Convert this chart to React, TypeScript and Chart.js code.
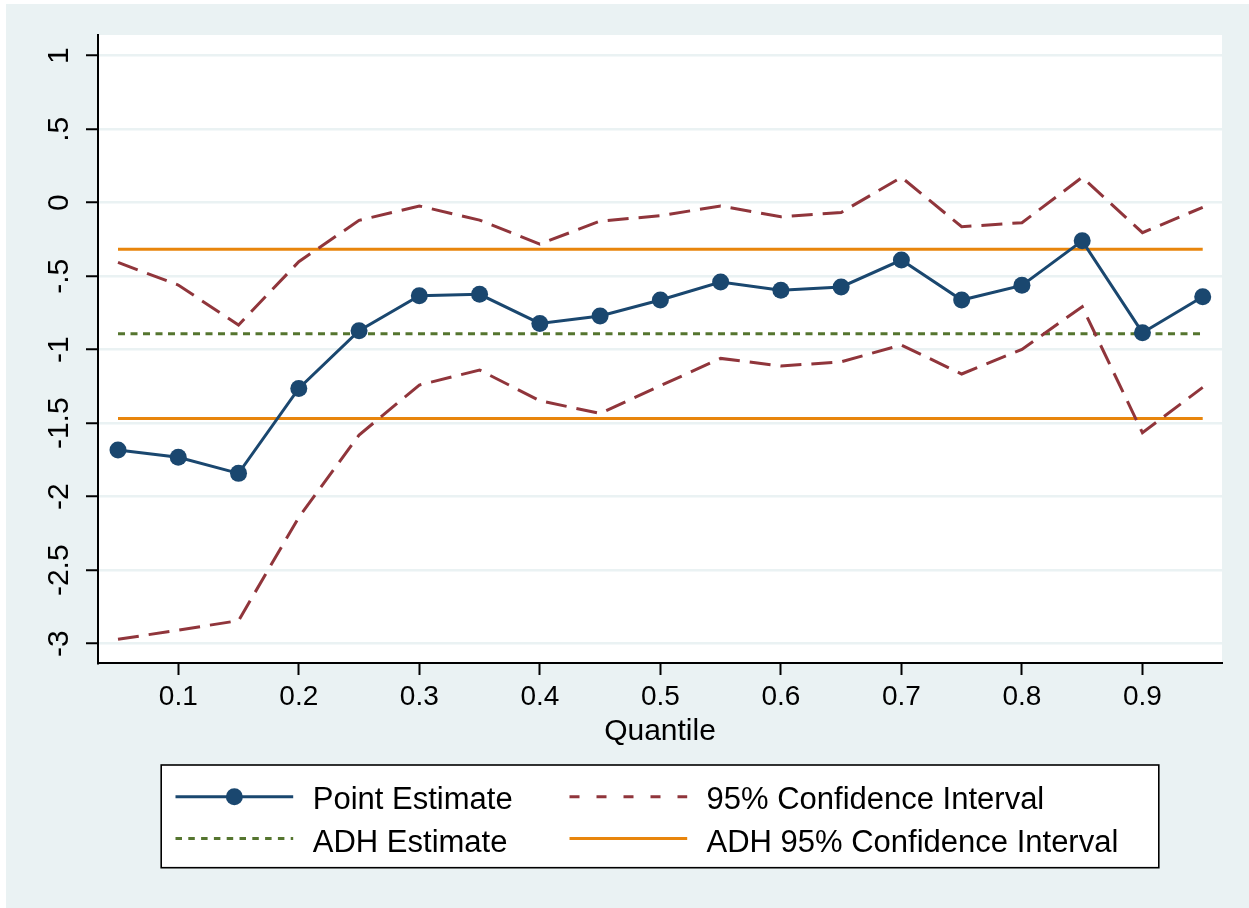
import React, { useEffect, useRef } from "react";
import { Chart, registerables } from "chart.js";

Chart.register(...registerables);

// ---- data ----
const quantiles = [0.05, 0.1, 0.15, 0.2, 0.25, 0.3, 0.35, 0.4, 0.45, 0.5, 0.55, 0.6, 0.65, 0.7, 0.75, 0.8, 0.85, 0.9, 0.95];
const pointEstimate = [-1.682, -1.732, -1.841, -1.263, -0.871, -0.633, -0.623, -0.821, -0.771, -0.662, -0.539, -0.596, -0.573, -0.39, -0.662, -0.562, -0.259, -0.884, -0.639];
const ciUpper = [-0.406, -0.56, -0.832, -0.401, -0.12, -0.022, -0.118, -0.281, -0.125, -0.088, -0.022, -0.095, -0.066, 0.173, -0.163, -0.136, 0.173, -0.204, -0.031];
const ciLower = [-2.97, -2.907, -2.843, -2.14, -1.58, -1.24, -1.138, -1.347, -1.433, -1.245, -1.059, -1.111, -1.082, -0.968, -1.165, -0.998, -0.707, -1.565, -1.256];
const adhRange = [0.05, 0.95];
const adhEstimate = -0.891;
const adhCiUpper = -0.317;
const adhCiLower = -1.467;
const xTickValues = [0.1, 0.2, 0.3, 0.4, 0.5, 0.6, 0.7, 0.8, 0.9];
const yTickValues = [1, 0.5, 0, -0.5, -1, -1.5, -2, -2.5, -3];
const yTickLabels = ["1", ".5", "0", "-.5", "-1", "-1.5", "-2", "-2.5", "-3"];
const legendLabels = ["Point Estimate", "95% Confidence Interval", "ADH Estimate", "ADH 95% Confidence Interval"];

const NAVY = "#1a476f";
const MAROON = "#90353b";
const GREEN = "#55752f";
const ORANGE = "#e8850c";
const BG = "#eaf2f3";
const FONT = "'Liberation Sans', Arial, Helvetica, sans-serif";

const pts = (xs: number[], ys: number[]) => xs.map((x, i) => ({ x, y: ys[i] }));
const flat = (v: number) => adhRange.map((x) => ({ x, y: v }));

const bgPlugin = {
  id: "bgPlugin",
  beforeDraw(chart: any) {
    const { ctx, chartArea } = chart;
    ctx.save();
    ctx.fillStyle = "#ffffff";
    ctx.fillRect(chartArea.left, chartArea.top, chartArea.right - chartArea.left, chartArea.bottom - chartArea.top);
    ctx.restore();
  },
};

const legendPlugin = {
  id: "stataLegend",
  afterDraw(chart: any) {
    const { ctx, chartArea } = chart;
    const cx = (chartArea.left + chartArea.right) / 2;
    const w = 997.6;
    const left = cx - w / 2;
    const top = 761;
    const h = 102.7;
    ctx.save();
    ctx.fillStyle = "#ffffff";
    ctx.fillRect(left, top, w, h);
    ctx.strokeStyle = "#000000";
    ctx.lineWidth = 1.6;
    ctx.strokeRect(left, top, w, h);

    const rows = [top + 31.7, top + 73.5];
    const baselines = [top + 43.5, top + 86.7];
    const cols = [
      { s: left + 14.3, e: left + 132, t: left + 151.6 },
      { s: left + 408.3, e: left + 526, t: left + 545.3 },
    ];
    const items = [
      { col: 0, row: 0, color: NAVY, dash: [] as number[], marker: true },
      { col: 1, row: 0, color: MAROON, dash: [10, 17], marker: false },
      { col: 0, row: 1, color: GREEN, dash: [6.5, 6.3], marker: false },
      { col: 1, row: 1, color: ORANGE, dash: [] as number[], marker: false },
    ];
    items.forEach((it, i) => {
      const c = cols[it.col];
      const y = rows[it.row];
      ctx.beginPath();
      ctx.setLineDash(it.dash);
      ctx.strokeStyle = it.color;
      ctx.lineWidth = 3;
      ctx.lineCap = "butt";
      ctx.moveTo(c.s, y);
      ctx.lineTo(c.e, y);
      ctx.stroke();
      ctx.setLineDash([]);
      if (it.marker) {
        ctx.beginPath();
        ctx.fillStyle = it.color;
        ctx.arc((c.s + c.e) / 2, y, 8.5, 0, Math.PI * 2);
        ctx.fill();
      }
      ctx.fillStyle = "#000000";
      ctx.font = `31px ${FONT}`;
      ctx.textAlign = "left";
      ctx.textBaseline = "alphabetic";
      ctx.fillText(legendLabels[i], c.t, baselines[it.row]);
    });
    ctx.restore();
  },
};

export default function App() {
  const canvasRef = useRef<HTMLCanvasElement | null>(null);

  useEffect(() => {
    if (!canvasRef.current) return;
    const chart = new Chart(canvasRef.current, {
      type: "line",
      data: {
        datasets: [
          {
            label: legendLabels[0],
            data: pts(quantiles, pointEstimate),
            borderColor: NAVY,
            backgroundColor: NAVY,
            borderWidth: 3,
            pointRadius: 8.5,
            pointBackgroundColor: NAVY,
            pointBorderWidth: 0,
            tension: 0,
          },
          {
            label: legendLabels[1],
            data: pts(quantiles, ciUpper),
            borderColor: MAROON,
            borderWidth: 3,
            borderDash: [21, 10],
            pointRadius: 0,
            tension: 0,
          },
          {
            label: legendLabels[1] + " (lower)",
            data: pts(quantiles, ciLower),
            borderColor: MAROON,
            borderWidth: 3,
            borderDash: [21, 10],
            pointRadius: 0,
            tension: 0,
          },
          {
            label: legendLabels[2],
            data: flat(adhEstimate),
            borderColor: GREEN,
            borderWidth: 3,
            borderDash: [7, 5.5],
            pointRadius: 0,
          },
          {
            label: legendLabels[3],
            data: flat(adhCiUpper),
            borderColor: ORANGE,
            borderWidth: 3,
            pointRadius: 0,
          },
          {
            label: legendLabels[3] + " (lower)",
            data: flat(adhCiLower),
            borderColor: ORANGE,
            borderWidth: 3,
            pointRadius: 0,
          },
        ],
      },
      options: {
        responsive: false,
        animation: false,
        devicePixelRatio: 1,
        layout: { padding: { left: 0, top: 31, right: 27, bottom: 158 } },
        plugins: {
          legend: { display: false },
          tooltip: { enabled: false },
          title: { display: false },
        },
        scales: {
          x: {
            type: "linear",
            min: 0.0334,
            max: 0.966,
            afterBuildTicks: (scale: any) => {
              scale.ticks = xTickValues.map((v) => ({ value: v }));
            },
            afterFit: (scale: any) => {
              scale.height = 87;
            },
            ticks: {
              color: "#000",
              font: { family: FONT, size: 28 },
              padding: 5,
              maxRotation: 0,
              minRotation: 0,
              autoSkip: false,
              callback: (v: any) => Number(v).toFixed(1),
            },
            grid: {
              drawOnChartArea: false,
              drawTicks: true,
              tickLength: 12,
              tickColor: "#000",
              tickWidth: 2,
            },
            border: { display: true, color: "#000", width: 2 },
            title: {
              display: true,
              text: "Quantile",
              color: "#000",
              font: { family: FONT, size: 30 },
              padding: { top: 0, bottom: 0 },
            },
          },
          y: {
            type: "linear",
            min: -3.131,
            max: 1.141,
            afterBuildTicks: (scale: any) => {
              scale.ticks = yTickValues.map((v) => ({ value: v }));
            },
            afterFit: (scale: any) => {
              scale.width = 92;
            },
            ticks: {
              color: "#000",
              font: { family: FONT, size: 30 },
              padding: 0,
              minRotation: 90,
              maxRotation: 90,
              crossAlign: "center",
              autoSkip: false,
              callback: (v: any) => {
                const i = yTickValues.indexOf(Number(v));
                return i >= 0 ? yTickLabels[i] : "";
              },
            },
            grid: {
              color: BG,
              lineWidth: 2.5,
              drawTicks: true,
              tickLength: 12,
              tickColor: "#000",
              tickWidth: 2,
            },
            border: { display: true, color: "#000", width: 2 },
          },
        },
      } as any,
      plugins: [bgPlugin, legendPlugin],
    });
    return () => chart.destroy();
  }, []);

  return (
    <div style={{ position: "absolute", left: 0, top: 0, width: 1249, height: 908, background: "#ffffff", overflow: "hidden" }}>
      <div style={{ position: "absolute", left: 6, top: 4, width: 1243, height: 904, background: BG }}>
        <canvas ref={canvasRef} width={1243} height={904} style={{ display: "block", width: 1243, height: 904 }} />
      </div>
    </div>
  );
}
